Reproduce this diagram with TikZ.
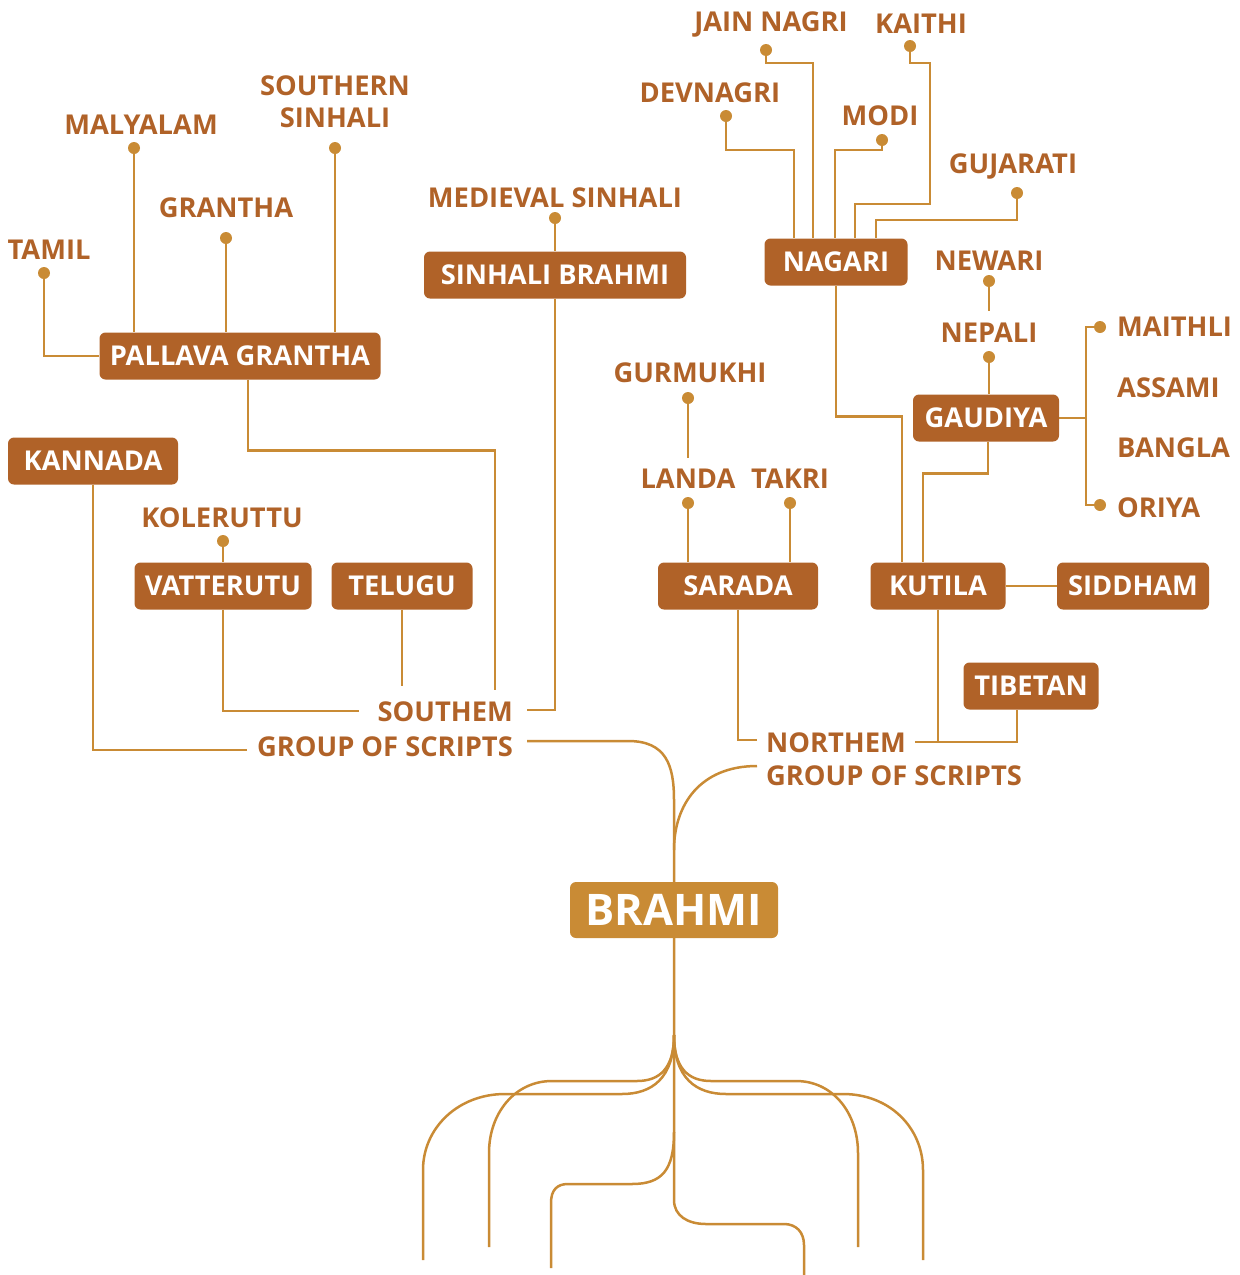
\documentclass[tikz,border=0pt]{standalone}
\usepackage{fontspec}
\usepackage{tikz}
\usetikzlibrary{arrows,positioning}
\usetikzlibrary{calc}
\newfontfamily\treefont{Open Sans}
\definecolor{rust}{HTML}{B06228}
\definecolor{gold}{HTML}{C98B35}

\tikzset{
  box/.style={rectangle,rounded corners=6pt,fill=rust,text=white,minimum height=47pt,inner sep=0pt,font=\treefont\bfseries\fontsize{27.3}{32}\selectfont},
  lbl/.style={text=rust,inner sep=0pt,font=\treefont\bfseries\fontsize{27.3}{32}\selectfont},
  dot/.style={circle,fill=gold,inner sep=0pt,minimum size=12pt},
  link/.style={draw=gold,line width=2.5pt}
}

\begin{document}
\begin{tikzpicture}[x=1pt,y=-1pt]
\useasboundingbox (0,0) rectangle (1240,1275);

% boxes
\node[box,minimum width=281] (pallava) at (240,356) {PALLAVA GRANTHA};
\node[box,minimum width=262] (sinbrahmi) at (555,275) {SINHALI BRAHMI};
\node[box,minimum width=143] (nagari) at (836,262) {NAGARI};
\node[box,minimum width=170] (kannada) at (93,461) {KANNADA};
\node[box,minimum width=177] (vatteru) at (223,586) {VATTERUTU};
\node[box,minimum width=141] (telugu) at (402,586) {TELUGU};
\node[box,minimum width=160] (sarada) at (738,586) {SARADA};
\node[box,minimum width=135] (kutila) at (938,586) {KUTILA};
\node[box,minimum width=152] (siddham) at (1133,586) {SIDDHAM};
\node[box,minimum width=146] (gaudiya) at (986,418) {GAUDIYA};
\node[box,minimum width=135] (tibetan) at (1031,686) {TIBETAN};
\node[box,fill=gold,minimum width=208,minimum height=56,font=\treefont\bfseries\fontsize{43.5}{48}\selectfont] (brahmi) at (674,910) {BRAHMI};

% labels
\node[lbl] (tamil) at (49,250) {TAMIL};
\node[lbl] (malyalam) at (141,125) {MALYALAM};
\node[lbl] (grantha) at (226,208) {GRANTHA};
\node[lbl,align=center] (ssinhali) at (335,102) {SOUTHERN\\SINHALI};
\node[lbl] (medieval) at (555,198) {MEDIEVAL SINHALI};
\node[lbl] (devnagri) at (710,93) {DEVNAGRI};
\node[lbl] (jain) at (771,24) {JAIN NAGRI};
\node[lbl] (kaithi) at (921,24) {KAITHI};
\node[lbl] (modi) at (880,116) {MODI};
\node[lbl] (gujarati) at (1013,166) {GUJARATI};
\node[lbl] (newari) at (989,261) {NEWARI};
\node[lbl] (nepali) at (989,333) {NEPALI};
\node[lbl,anchor=west] (maithli) at (1117,327) {MAITHLI};
\node[lbl,anchor=west] (assami) at (1117,388) {ASSAMI};
\node[lbl,anchor=west] (bangla) at (1117,448) {BANGLA};
\node[lbl,anchor=west] (oriya) at (1117,508) {ORIYA};
\node[lbl] (gurmukhi) at (690,373) {GURMUKHI};
\node[lbl] (landa) at (688,479) {LANDA};
\node[lbl] (takri) at (790,479) {TAKRI};
\node[lbl] (koleruttu) at (222,518) {KOLERUTTU};
\node[lbl,anchor=east] (south1) at (513,712) {SOUTHEM};
\node[lbl,anchor=east] (south2) at (513,747) {GROUP OF SCRIPTS};
\node[lbl,anchor=west] (north1) at (766,743) {NORTHEM};
\node[lbl,anchor=west] (north2) at (766,776) {GROUP OF SCRIPTS};

% dots
\node[dot] (d-tamil) at (44,273) {};
\node[dot] (d-malyalam) at (134,148) {};
\node[dot] (d-grantha) at (226,238) {};
\node[dot] (d-ssinhali) at (335,148) {};
\node[dot] (d-medieval) at (555,218) {};
\node[dot] (d-devnagri) at (726,116) {};
\node[dot] (d-jain) at (766,50) {};
\node[dot] (d-kaithi) at (910,46) {};
\node[dot] (d-modi) at (882,140) {};
\node[dot] (d-gujarati) at (1017,193) {};
\node[dot] (d-newari) at (989,281) {};
\node[dot] (d-nepali) at (989,357) {};
\node[dot] (d-maithli) at (1100,327) {};
\node[dot] (d-oriya) at (1100,505) {};
\node[dot] (d-gurmukhi) at (688,398) {};
\node[dot] (d-landa) at (688,503) {};
\node[dot] (d-takri) at (790,503) {};
\node[dot] (d-koleruttu) at (223,541) {};

% southern branch
\draw[link] (d-tamil.center) |- (pallava.west);
\draw[link] (d-malyalam.center) -- (d-malyalam.center |- pallava.north);
\draw[link] (d-grantha.center) -- (d-grantha.center |- pallava.north);
\draw[link] (d-ssinhali.center) -- (d-ssinhali.center |- pallava.north);
\draw[link] ([xshift=8]pallava.south) -- ++(0,71) -| ([xshift=-18,yshift=12]south1.north east);
\draw[link] (d-medieval.center) -- (sinbrahmi.north);
\draw[link] (sinbrahmi.south) |- ([xshift=14,yshift=2]south1.east);
\draw[link] (d-koleruttu.center) -- (vatteru.north);
\draw[link] (vatteru.south) |- ([xshift=-18,yshift=1]south1.west);
\draw[link] (telugu.south) -- ++(0,76);
\draw[link] (kannada.south) |- ([xshift=-10,yshift=-3]south2.west);
\draw[link] ([xshift=14,yshift=6]south2.east) -- (628,741) .. controls (666,741) and (674,765) .. (674,800) -- (brahmi.north);

% northern branch
\draw[link] (d-devnagri.center) -- ++(0,34) -| ([xshift=-42]nagari.north);
\draw[link] (d-jain.center) -- ++(0,13) -| ([xshift=-23]nagari.north);
\draw[link] (d-modi.center) -- ++(0,10) -| ([xshift=-1]nagari.north);
\draw[link] (d-kaithi.center) -- ++(0,17) -| (930,204) -| ([xshift=19]nagari.north);
\draw[link] (d-gujarati.center) -- ++(0,27) -| ([xshift=40]nagari.north);
\draw[link] (nagari.south) -- ++(0,131) -| ([xshift=-36]kutila.north);
\draw[link] (d-newari.center) -- ++(0,30);
\draw[link] (d-nepali.center) -- (d-nepali.center |- gaudiya.north);
\draw[link] (gaudiya.east) -- ++(27,0) coordinate (g-join);
\draw[link] (d-maithli.center) -| (g-join) |- (d-oriya.center);
\draw[link] ([xshift=2]gaudiya.south) -- ++(0,32) -| ([xshift=-15]kutila.north);
\draw[link] (kutila) -- (siddham);
\draw[link] (d-gurmukhi.center) -- ++(0,60);
\draw[link] (d-landa.center) -- (d-landa.center |- sarada.north);
\draw[link] (d-takri.center) -- (d-takri.center |- sarada.north);
\draw[link] (sarada.south) |- ([xshift=-9,yshift=3]north1.west);
\draw[link] (kutila.south) -- (kutila.south |- 0,742);
\draw[link] ([xshift=9,yshift=1]north1.east) -| ([xshift=-14]tibetan.south);
\draw[link] ([xshift=-9,yshift=10]north2.west) .. controls (700,766) and (674,805) .. (674,850);

% roots
\draw[link] (brahmi.south) -- (674,1200) .. controls (674,1216) and (688,1224) .. (706,1224) -- (784,1224) .. controls (796,1224) and (804,1232) .. (804,1245) -- (804,1275);
\draw[link] (674,1035) .. controls (674,1078) and (652,1094) .. (622,1094) -- (505,1094) .. controls (458,1094) and (423,1128) .. (423,1170) -- (423,1260);
\draw[link] (674,1035) .. controls (674,1068) and (660,1081) .. (637,1081) -- (552,1081) .. controls (515,1081) and (489,1113) .. (489,1153) -- (489,1247);
\draw[link] (674,1132) .. controls (674,1170) and (662,1184) .. (632,1184) -- (568,1184) .. controls (557,1184) and (551,1190) .. (551,1203) -- (551,1268);
\draw[link] (674,1035) .. controls (674,1068) and (688,1081) .. (711,1081) -- (796,1081) .. controls (833,1081) and (858,1113) .. (858,1153) -- (858,1247);
\draw[link] (674,1035) .. controls (674,1078) and (696,1094) .. (726,1094) -- (843,1094) .. controls (890,1094) and (923,1128) .. (923,1170) -- (923,1260);
\end{tikzpicture}
\end{document}
